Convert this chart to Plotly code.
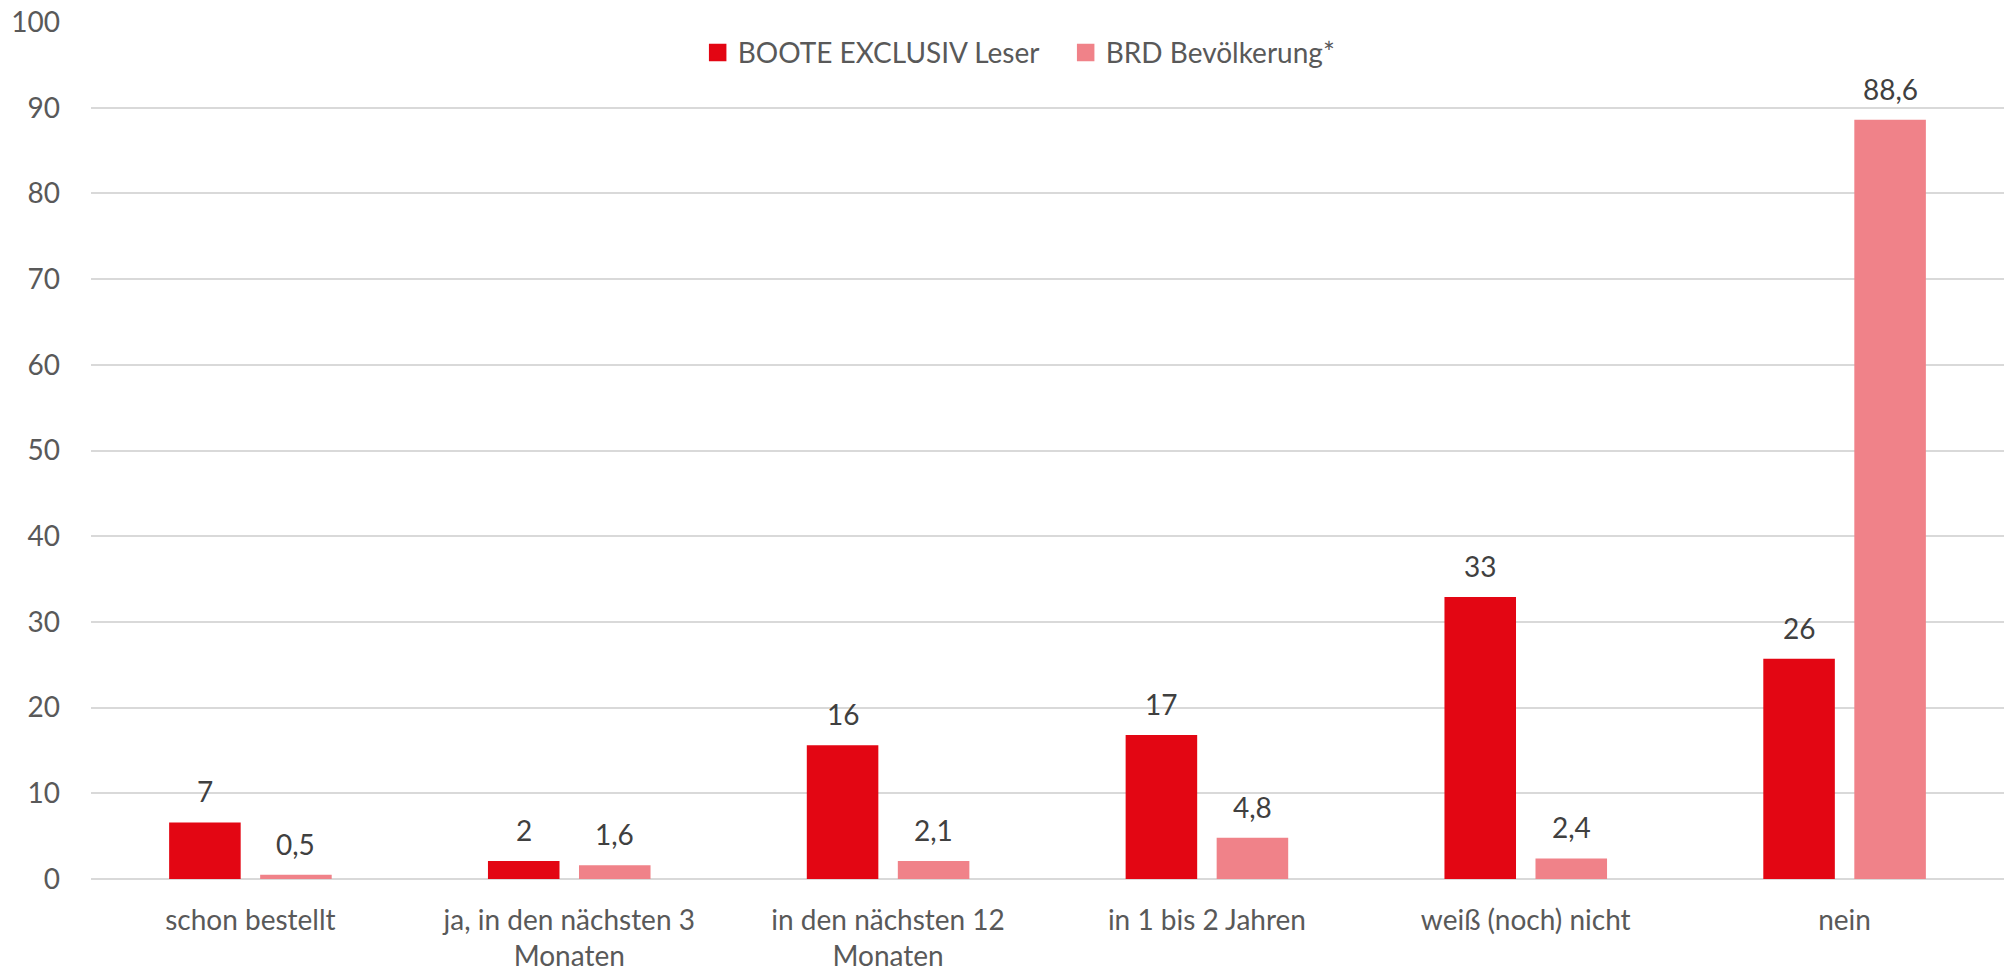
import plotly.graph_objects as go

# ---- data ----
categories = [
    "schon bestellt",
    "ja, in den nächsten 3<br>Monaten",
    "in den nächsten 12<br>Monaten",
    "in 1 bis 2 Jahren",
    "weiß (noch) nicht",
    "nein",
]
series_names = ["BOOTE EXCLUSIV Leser", "BRD Bevölkerung*"]
leser = [6.6, 2.1, 15.6, 16.8, 32.9, 25.7]
brd = [0.5, 1.6, 2.1, 4.8, 2.4, 88.6]
y_ticks = [0, 10, 20, 30, 40, 50, 60, 70, 80, 90, 100]

leser_labels = [str(int(round(v))) for v in leser]
brd_labels = [f"{v:.1f}".replace(".", ",") for v in brd]

# ---- style ----
RED = "rgb(227,6,19)"
PINK = "rgb(240,130,137)"
AXIS_TXT = "#595959"
LBL_TXT = "#404040"
GRID = "#d9d9d9"
FONT = "Lato"
FS = 28
BARGAP = 0.429
BARGROUPGAP = 0.214

fig = go.Figure()
fig.add_trace(go.Bar(x=categories, y=leser, name=series_names[0],
                     marker=dict(color=RED, line=dict(width=0)), showlegend=False))
fig.add_trace(go.Bar(x=categories, y=brd, name=series_names[1],
                     marker=dict(color=PINK, line=dict(width=0)), showlegend=False))

# legend entries (larger square symbols)
for nm, col in zip(series_names, [RED, PINK]):
    fig.add_trace(go.Scatter(x=[None], y=[None], mode="markers", name=nm,
                             marker=dict(symbol="square", size=16, color=col,
                                         line=dict(width=1.5, color=col))))

# data labels above bars
off = (1 - BARGAP) / 4
annos = []
for i in range(len(categories)):
    for vals, labs, sgn in ((leser, leser_labels, -1), (brd, brd_labels, 1)):
        annos.append(dict(x=i + sgn * off, y=vals[i], xref="x", yref="y",
                          text=labs[i], showarrow=False, yanchor="bottom",
                          xanchor="center", yshift=12,
                          font=dict(family=FONT, size=FS, color=LBL_TXT)))

fig.update_layout(
    width=2006, height=974,
    margin=dict(l=91, r=2, t=22, b=93, pad=0),
    paper_bgcolor="white", plot_bgcolor="white",
    font=dict(family=FONT, size=FS, color=AXIS_TXT),
    barmode="group", bargap=BARGAP, bargroupgap=BARGROUPGAP,
    annotations=annos,
    legend=dict(orientation="h", x=0.5095, xanchor="center", y=0.964, yanchor="middle",
                bgcolor="rgba(0,0,0,0)", font=dict(family=FONT, size=FS, color=AXIS_TXT),
                entrywidth=323, entrywidthmode="pixels"),
    showlegend=True,
)
fig.update_xaxes(type="category", showgrid=False, showline=False, ticks="",
                 tickfont=dict(family=FONT, size=FS, color=AXIS_TXT),
                 ticklabelstandoff=22)
fig.update_yaxes(range=[0, 100], tickvals=y_ticks, showgrid=True, gridcolor=GRID,
                 gridwidth=1.5, zeroline=True, zerolinecolor=GRID, zerolinewidth=2,
                 showline=False, ticks="", ticklabelstandoff=30,
                 tickfont=dict(family=FONT, size=FS, color=AXIS_TXT))

fig.write_html("out.html", config={"displayModeBar": False},
               post_script="document.body.style.margin='0';document.body.style.overflow='hidden';")
